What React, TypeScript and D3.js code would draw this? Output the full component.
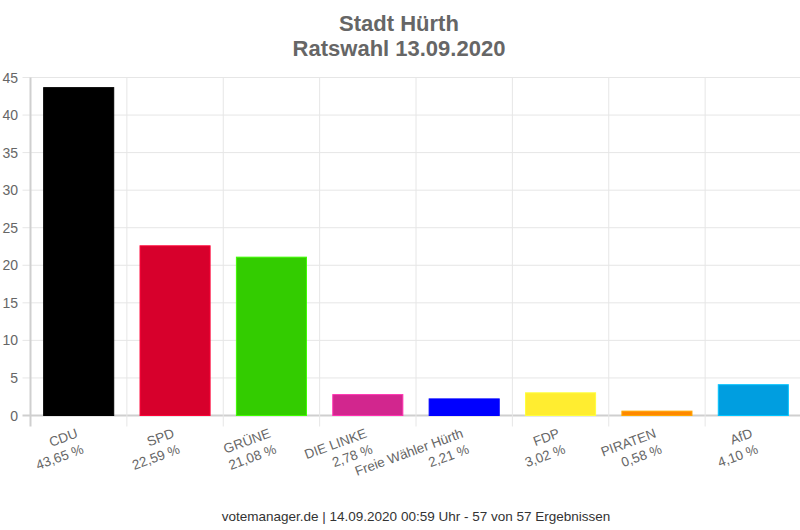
import { scaleBand, scaleLinear, color } from "d3";

const parties = ["CDU", "SPD", "GRÜNE", "DIE LINKE", "Freie Wähler Hürth", "FDP", "PIRATEN", "AfD"];
const shares = [43.65, 22.59, 21.08, 2.78, 2.21, 3.02, 0.58, 4.1];
const shareLabels = ["43,65 %", "22,59 %", "21,08 %", "2,78 %", "2,21 %", "3,02 %", "0,58 %", "4,10 %"];
const partyColors = ["#000000", "#d7002c", "#33cc00", "#d2268e", "#0000ff", "#ffed30", "#ff8800", "#009ee0"];
const yTicks = [0, 5, 10, 15, 20, 25, 30, 35, 40, 45];

const W = 800;
const H = 530;
const font = "Arial, 'Liberation Sans', sans-serif";

export default function App() {
  const left = 30.5;
  const right = 801.5;
  const top = 77.5;
  const bottom = 415.5;

  const x = scaleBand<string>().domain(parties).range([left, right]).paddingInner(0).paddingOuter(0);
  const y = scaleLinear().domain([0, 45]).range([bottom, top]);
  const bw = x.bandwidth();
  const barW = bw * 0.727;

  return (
    <div>
      <style>{`html,body{margin:0;padding:0;overflow:hidden}`}</style>
      <svg width={W} height={H} style={{ display: "block", background: "#fff" }} fontFamily={font}>
        <text x={399} y={31} textAnchor="middle" fill="#666" fontSize={22} fontWeight="bold">
          Stadt Hürth
        </text>
        <text x={399} y={56} textAnchor="middle" fill="#666" fontSize={22} fontWeight="bold">
          Ratswahl 13.09.2020
        </text>

        {/* horizontal grid */}
        {yTicks.map((t) => (
          <g key={t}>
            <line x1={left - 8} x2={right} y1={y(t)} y2={y(t)} stroke={t === 0 ? "#cfcfcf" : "#e6e6e6"} strokeWidth={t === 0 ? 2 : 1} />
            <text x={18} y={y(t) + 5} textAnchor="end" fill="#666" fontSize={14}>
              {t}
            </text>
          </g>
        ))}

        {/* vertical grid */}
        {parties.map((p, i) => (
          <line
            key={p}
            x1={x(p)!}
            x2={x(p)!}
            y1={top}
            y2={bottom + 11}
            stroke={i === 0 ? "#cfcfcf" : "#e6e6e6"}
            strokeWidth={i === 0 ? 2 : 1}
          />
        ))}

        {parties.map((p, i) => {
          const bx = x(p)! + (bw - barW) / 2;
          const by = y(shares[i]);
          const c = color(partyColors[i])!;
          const stroke = c.brighter(0.6).formatHex();
          return (
            <rect
              key={p}
              x={bx}
              y={by}
              width={barW}
              height={bottom - by}
              fill={partyColors[i]}
              stroke={stroke}
              strokeWidth={1}
            />
          );
        })}

        {parties.map((p, i) => {
          const cx = x(p)! + bw / 2;
          return (
            <g key={p} transform={`translate(${cx},${437}) rotate(-20)`}>
              <text x={0} y={0} textAnchor="end" fill="#666" fontSize={13.5}>
                {p}
              </text>
              <text x={0} y={17} textAnchor="end" fill="#666" fontSize={13.5}>
                {shareLabels[i]}
              </text>
            </g>
          );
        })}

        <text x={416} y={521} textAnchor="middle" fill="#333" fontSize={13.5}>
          votemanager.de | 14.09.2020 00:59 Uhr - 57 von 57 Ergebnissen
        </text>
      </svg>
    </div>
  );
}
